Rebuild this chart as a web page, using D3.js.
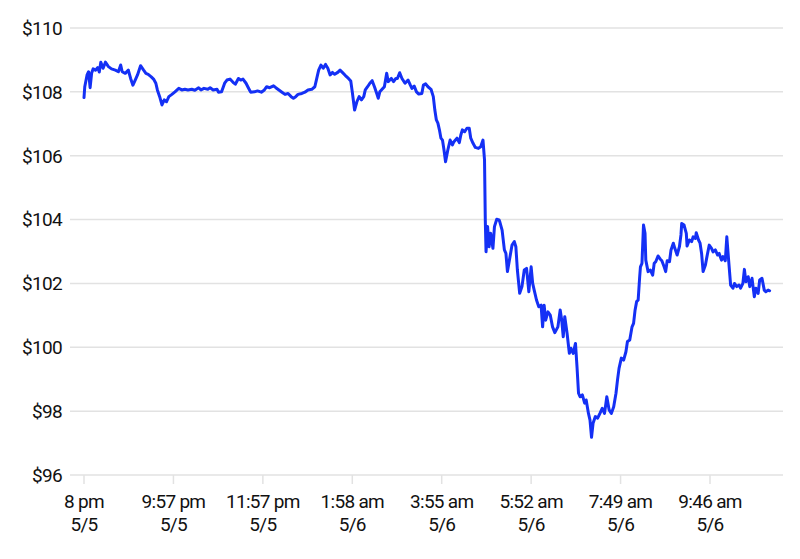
<!DOCTYPE html>
<html>
<head>
<meta charset="utf-8">
<script src="https://cdn.jsdelivr.net/npm/d3@7"></script>
<style>
  html, body { margin: 0; padding: 0; background: #ffffff; }
  svg { display: block; }
  text { font-family: Roboto, "Noto Sans", sans-serif; fill: #111111; }
</style>
</head>
<body>
<div id="chart"></div>
<script>
// Minutes from 8 pm (axis positions), price in dollars
const minutes = [
  0,1,4,6,8,10,12,15,18,20,22,25,28,32,36,41,45,48,50,54,58,61,64,67,70,74,78,81,84,88,91,94,96,99,102,105,108,111,115,119,124,128,132,136,141,145,150,153,157,162,165,169,174,
  176,180,184,187,191,195,198,202,205,208,212,215,218,223,227,232,236,239,243,248,251,255,259,263,267,271,274,277,280,285,289,293,298,302,304,307,310,313,316,319,322,325,328,332,335,338,342,346,349,351,354,357,
  360,363,366,368,371,374,377,380,383,385,387,390,393,396,398,402,405,408,410,413,416,420,424,427,429,432,435,438,442,444,447,450,454,457,459,461,463,465,467,469,471,473,476,479,482,484,488,491,493,495,498,501,504,506,509,512,516,519,522,524,525,526,528,530,532,535,537,540,543,
  544,547,550,552,554,557,560,563,565,567,570,573,576,579,582,585,587,589,592,595,598,600,602,604,607,610,613,616,620,623,625,627,629,632,635,637,640,643,645,647,649,652,655,657,660,662,664,666,669,672,675,678,681,684,687,690,693,696,698,700,703,706,709,711,714,717,719,721,723,725,
  727,728,730,732,734,735,738,741,744,746,748,751,754,756,759,761,763,766,768,771,773,776,779,781,782,785,788,789,792,795,797,800,801,804,806,808,810,813,815,818,821,823,826,829,831,834,836,839,841,843,846,849,851,854,857,859,862,864,866,869,871,874,877,879,882,884,887,890,892,895,897
];
const prices = [
  107.82,108.16,108.53,108.63,108.13,108.59,108.72,108.68,108.76,108.62,108.93,108.74,108.93,108.79,108.72,108.68,108.63,108.84,108.63,108.58,108.68,108.42,108.21,108.37,108.53,108.82,108.68,108.58,108.55,108.47,108.40,108.27,108.06,107.85,107.59,107.75,107.69,107.85,107.92,108.00,108.11,108.06,108.08,108.06,108.08,108.05,108.13,108.06,108.11,108.08,108.13,108.06,108.08,
  107.99,108.00,108.27,108.37,108.40,108.30,108.24,108.42,108.37,108.40,108.27,108.13,107.99,108.00,108.03,107.99,108.06,108.16,108.13,108.19,108.13,108.06,107.99,107.92,107.95,107.85,107.80,107.85,107.92,107.95,107.99,108.06,108.08,108.16,108.37,108.68,108.84,108.74,108.86,108.74,108.53,108.61,108.55,108.61,108.68,108.61,108.51,108.42,108.34,108.00,107.43,107.69,
  107.85,107.75,107.85,108.06,108.16,108.27,108.35,108.16,107.95,107.80,108.00,108.08,108.16,108.58,108.32,108.42,108.32,108.42,108.42,108.60,108.42,108.27,108.37,108.21,108.11,108.18,108.00,107.93,107.95,108.21,108.25,108.16,108.08,107.85,107.43,107.12,107.02,106.81,106.55,106.49,106.18,105.81,106.18,106.49,106.34,106.44,106.55,106.41,106.65,106.81,106.75,106.86,106.86,106.55,106.39,106.26,106.23,106.28,106.49,105.87,103.99,102.99,103.78,103.15,103.57,103.10,103.78,104.01,103.99,
  103.93,103.67,103.05,102.94,102.37,102.79,103.20,103.31,103.15,102.42,101.69,101.90,102.42,102.47,101.74,102.52,102.00,101.79,101.48,101.27,101.32,100.64,101.32,100.85,101.11,101.01,100.64,100.46,100.64,101.17,100.85,100.33,100.96,100.44,99.81,99.97,99.81,100.12,99.39,98.56,98.45,98.51,98.25,98.35,97.93,97.72,97.18,97.62,97.83,97.78,97.93,98.09,97.93,98.45,98.04,97.93,98.14,98.56,98.98,99.34,99.66,99.60,99.86,100.18,100.23,100.64,100.75,101.17,101.43,101.48,
  102.21,102.52,102.63,103.83,103.57,102.73,102.37,102.42,102.26,102.63,102.68,102.86,102.76,102.71,102.52,102.37,102.71,102.68,103.05,103.26,103.10,102.89,103.15,103.52,103.88,103.83,103.57,103.17,103.36,103.31,103.46,103.41,103.59,103.36,103.26,102.94,102.37,102.58,102.84,103.20,103.10,102.99,103.05,102.89,102.94,102.73,102.84,102.71,103.46,102.84,101.95,101.85,102.00,101.90,101.95,101.85,102.00,102.44,102.05,102.21,101.90,102.16,101.58,101.85,101.69,102.11,102.16,101.79,101.74,101.79,101.77
];
const yTicks = [96, 98, 100, 102, 104, 106, 108, 110];
const xTickMinutes = [0, 117, 234, 351, 468, 585, 702, 819];
const xTickTimes = ["8 pm", "9:57 pm", "11:57 pm", "1:58 am", "3:55 am", "5:52 am", "7:49 am", "9:46 am"];
const xTickDates = ["5/5", "5/5", "5/5", "5/6", "5/6", "5/6", "5/6", "5/6"];

const W = 800, H = 559;
const svg = d3.select("#chart").append("svg").attr("width", W).attr("height", H);

const x = d3.scaleLinear().domain([0, 819]).range([84, 710]);
const y = d3.scaleLinear().domain([96, 110]).range([475, 28]);

const gridLeft = 70, gridRight = 783;

// gridlines
svg.append("g").selectAll("line").data(yTicks).join("line")
  .attr("x1", gridLeft).attr("x2", gridRight)
  .attr("y1", d => y(d)).attr("y2", d => y(d))
  .attr("stroke", "#e2e2e2").attr("stroke-width", 1.5);

// y labels
svg.append("g").selectAll("text").data(yTicks).join("text")
  .attr("x", 62).attr("y", d => y(d)).attr("dy", "0.36em")
  .attr("text-anchor", "end")
  .style("font-size", "19px").style("letter-spacing", "-0.7px")
  .text(d => "$" + d);

// x axis ticks
const xg = svg.append("g").attr("transform", `translate(0,${y(96)})`);
const ticks = xg.selectAll("g").data(xTickMinutes).join("g")
  .attr("transform", d => `translate(${x(d)},0)`);
ticks.append("line").attr("y1", 0).attr("y2", 9).attr("stroke", "#e2e2e2").attr("stroke-width", 1.5);
ticks.append("text").attr("y", 33).attr("text-anchor", "middle")
  .style("font-size", "19px").style("letter-spacing", "-0.7px")
  .text((d, i) => xTickTimes[i]);
ticks.append("text").attr("y", 56).attr("text-anchor", "middle")
  .style("font-size", "19px").style("letter-spacing", "-0.7px")
  .text((d, i) => xTickDates[i]);

// line
const data = minutes.map((m, i) => ({ m, p: prices[i] }));
const line = d3.line().x(d => x(d.m)).y(d => y(d.p)).curve(d3.curveLinear);
svg.append("path").datum(data)
  .attr("d", line)
  .attr("fill", "none")
  .attr("stroke", "#1430f5")
  .attr("stroke-width", 3)
  .attr("stroke-linejoin", "round")
  .attr("stroke-linecap", "round");
</script>
</body>
</html>
